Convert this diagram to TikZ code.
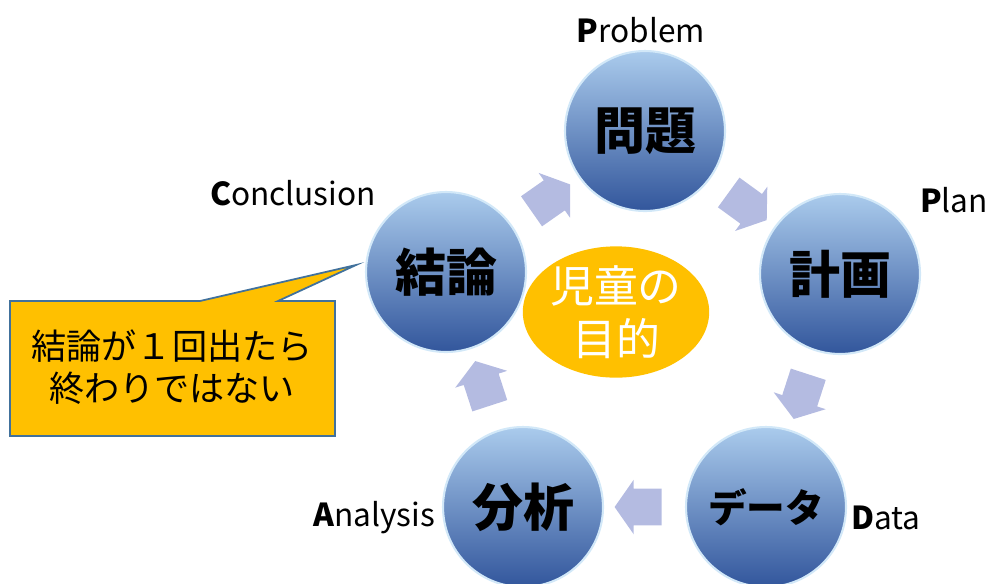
\documentclass[tikz,border=0pt]{standalone}
\usepackage{fontspec}
\setmainfont{Noto Sans CJK JP}
\usepackage{tikz}
\usetikzlibrary{shapes.geometric, shapes.arrows, calc, positioning}
\definecolor{ballTop}{RGB}{170,203,236}
\definecolor{ballBottom}{RGB}{50,86,156}
\definecolor{ballRim}{RGB}{210,232,248}
\definecolor{goalYellow}{RGB}{255,192,0}
\definecolor{memoEdge}{RGB}{65,113,156}
\definecolor{flowBlue}{RGB}{172,180,222}

\begin{document}
\begin{tikzpicture}[x=0.02cm, y=-0.02cm,
    ball/.style={circle, minimum size=3.2cm, inner sep=0pt, top color=ballTop, bottom color=ballBottom,
        draw=ballRim, line width=1.2pt, font=\fontsize{29}{32}\selectfont\bfseries},
    flow/.style={single arrow, single arrow tip angle=110, single arrow head extend=0.18cm,
        inner xsep=0.1cm, inner ysep=0.36cm, minimum height=0.94cm, fill=flowBlue, fill opacity=0.9},
    lbl/.style={font=\fontsize{18}{21}\selectfont}]
    \useasboundingbox (0,0) rectangle (989,583);

    % the five steps
    \node[ball] (mondai) at (645,131) {問題};
    \node[ball] (keikaku) at (840,274) {計画};
    \node[ball, font=\fontsize{22}{26}\selectfont\bfseries] (data) at (766,507) {データ};
    \node[ball] (bunseki) at (523,507) {分析};
    \node[ball] (ketsuron) at (446,272) {結論};

    % goal in the middle
    \node[ellipse, fill=goalYellow, minimum width=3.6cm, minimum height=2.4cm, inner sep=0pt,
        text=white, align=center, font=\fontsize{25}{30}\selectfont] (mokuteki) at (616,312) {児童の\\目的};

    % flow arrows
    \node[flow, rotate=35] (f1) at ($(ketsuron)!0.5!(mondai)$) {};
    \node[flow, rotate=-36] (f2) at ($(mondai)!0.5!(keikaku)$) {};
    \node[flow, rotate=-108] (f3) at ($(keikaku)!0.5!(data)$) {};
    \node[flow, rotate=180] (f4) at ($(data)!0.5!(bunseki)$) {};
    \node[flow, rotate=108] (f5) at ($(bunseki)!0.5!(ketsuron)$) {};

    % english labels
    \node[lbl] (pProblem) at (641,30) {\textbf{P}roblem};
    \node[lbl] (pPlan) at (954,200) {\textbf{P}lan};
    \node[lbl] (pData) at (886,518) {\textbf{D}ata};
    \node[lbl] (pAnalysis) at (374,518) {\textbf{A}nalysis};
    \node[lbl] (pConclusion) at (293,193) {\textbf{C}onclusion};

    % callout
    \draw[fill=goalYellow, draw=memoEdge, line width=1pt] (10,301) -- (200,301) -- (356,265) -- (278,301)
        -- (335,301) -- (335,436) -- (10,436) -- cycle;
    \node[align=center, font=\fontsize{20}{24}\selectfont] (memo) at (172,367) {結論が１回出たら\\終わりではない};
\end{tikzpicture}
\end{document}
